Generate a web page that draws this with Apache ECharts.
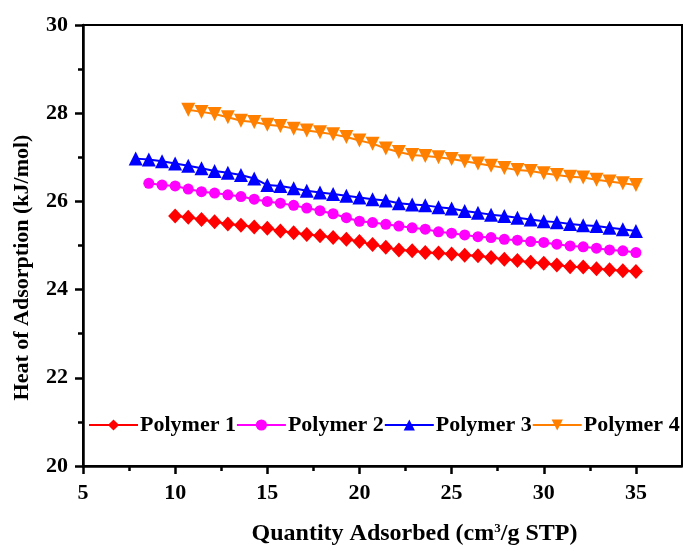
<!DOCTYPE html>
<html>
<head>
<meta charset="utf-8">
<title>Heat of Adsorption</title>
<script src="https://cdn.jsdelivr.net/npm/echarts@6/dist/echarts.min.js"></script>
<style>
  html, body { margin: 0; padding: 0; background: #fff; }
  #chart { width: 683px; height: 551px; }
</style>
</head>
<body>
<div id="chart"></div>
<script>
// Quantity adsorbed (cm3/g STP); every series ends at the last value
const quantity = [7.86, 8.57, 9.29, 10.00, 10.71, 11.43, 12.14, 12.86, 13.57, 14.29,
  15.00, 15.71, 16.43, 17.14, 17.86, 18.57, 19.29, 20.00, 20.71, 21.43,
  22.14, 22.86, 23.57, 24.29, 25.00, 25.71, 26.43, 27.14, 27.86, 28.57,
  29.29, 30.00, 30.71, 31.43, 32.14, 32.86, 33.57, 34.29, 35.00];

// Isosteric heat of adsorption (kJ/mol)
const polymer1 = [25.67, 25.64, 25.59, 25.54, 25.49, 25.46, 25.42, 25.39, 25.33, 25.29,
  25.25, 25.22, 25.18, 25.14, 25.09, 25.02, 24.96, 24.90, 24.88, 24.84,
  24.83, 24.81, 24.78, 24.77, 24.73, 24.69, 24.66, 24.62, 24.60, 24.56,
  24.52, 24.51, 24.47, 24.45, 24.43, 24.41];
const polymer2 = [26.41, 26.37, 26.35, 26.28, 26.22, 26.19, 26.15, 26.11, 26.05, 26.00,
  25.96, 25.91, 25.85, 25.79, 25.72, 25.63, 25.55, 25.52, 25.48, 25.44,
  25.40, 25.37, 25.31, 25.28, 25.24, 25.20, 25.18, 25.14, 25.12, 25.09,
  25.07, 25.03, 24.99, 24.97, 24.94, 24.90, 24.88, 24.84];
const polymer3 = [26.97, 26.95, 26.91, 26.86, 26.81, 26.75, 26.69, 26.65, 26.60, 26.52,
  26.37, 26.35, 26.30, 26.24, 26.20, 26.17, 26.13, 26.09, 26.05, 26.02,
  25.96, 25.93, 25.91, 25.87, 25.84, 25.78, 25.74, 25.70, 25.67, 25.63,
  25.59, 25.55, 25.53, 25.49, 25.46, 25.44, 25.40, 25.37, 25.33];
const polymer4 = [28.08, 28.03, 27.98, 27.91, 27.83, 27.80, 27.74, 27.71, 27.65, 27.61,
  27.57, 27.52, 27.46, 27.38, 27.31, 27.20, 27.12, 27.05, 27.03, 27.00,
  26.96, 26.91, 26.86, 26.81, 26.76, 26.71, 26.69, 26.64, 26.60, 26.56,
  26.54, 26.49, 26.45, 26.41, 26.37];

const seriesNames = ['Polymer 1', 'Polymer 2', 'Polymer 3', 'Polymer 4'];

// Axis ticks
const xTicks = [5, 10, 15, 20, 25, 30, 35];
const xMinorTicks = [7.5, 12.5, 17.5, 22.5, 27.5, 32.5];
const yTicks = [20, 22, 24, 26, 28, 30];
const yMinorTicks = [21, 23, 25, 27, 29];

// Pair each heat series with the matching tail of the quantity list
function pairs(values) {
  const xs = quantity.slice(quantity.length - values.length);
  return values.map((v, i) => [xs[i], v]);
}

const FONT = 'Liberation Serif, Times New Roman, serif';

const styles = [
  { color: '#ff0000', symbol: 'diamond', symbolSize: [14, 15], rotate: 0 },
  { color: '#ff00ff', symbol: 'circle', symbolSize: 11, rotate: 0 },
  { color: '#0000ff', symbol: 'triangle', symbolSize: 14, rotate: 0 },
  { color: '#ff8000', symbol: 'triangle', symbolSize: 14, rotate: 180 }
];
const allValues = [polymer1, polymer2, polymer3, polymer4];

const chart = echarts.init(document.getElementById('chart'), null, { renderer: 'canvas' });

const axisLine = { show: true, lineStyle: { color: '#000', width: 2.5 } };

chart.setOption({
  backgroundColor: '#fff',
  animation: false,
  grid: {
    left: 83, right: 1, top: 25, bottom: 80,
    show: true, borderColor: '#000', borderWidth: 2, backgroundColor: 'transparent'
  },
  legend: {
    data: seriesNames,
    left: 88, top: 414, padding: 0,
    itemWidth: 49, itemHeight: 14, itemGap: 0,
    textStyle: { fontFamily: FONT, fontWeight: 'bold', fontSize: 22, color: '#000', padding: [0, 0, 0, -3] }
  },
  xAxis: [
    {
      type: 'value', min: 5, max: 37.5, interval: 5,
      splitLine: { show: false },
      axisLine: axisLine,
      axisTick: { show: true, inside: false, length: 8, customValues: xTicks, lineStyle: { width: 2.5, color: '#000' } },
      axisLabel: { customValues: xTicks, margin: 16, fontFamily: FONT, fontWeight: 'bold', fontSize: 22, color: '#000' },
      name: 'Quantity Adsorbed (cm{sup|3}/g STP)',
      nameLocation: 'middle', nameGap: 56,
      nameTextStyle: {
        fontFamily: FONT, fontWeight: 'bold', fontSize: 24, color: '#000',
        padding: [0, 0, 0, 64],
        rich: { sup: { fontFamily: FONT, fontWeight: 'bold', fontSize: 13, color: '#000', padding: [0, 0, 11, 0] } }
      }
    },
    {
      // minor ticks between the labelled ones
      type: 'value', min: 5, max: 37.5, position: 'bottom',
      axisLine: { show: false }, splitLine: { show: false },
      axisTick: { show: true, length: 5, customValues: xMinorTicks, lineStyle: { width: 2.5, color: '#000' } },
      axisLabel: { show: false }
    }
  ],
  yAxis: [
    {
      type: 'value', min: 20, max: 30, interval: 2,
      splitLine: { show: false },
      axisLine: axisLine,
      axisTick: { show: true, length: 8, customValues: yTicks, lineStyle: { width: 2.5, color: '#000' } },
      axisLabel: { customValues: yTicks, margin: 15, fontFamily: FONT, fontWeight: 'bold', fontSize: 22, color: '#000' },
      name: 'Heat of Adsorption (kJ/mol)',
      nameLocation: 'middle', nameGap: 50,
      nameTextStyle: { fontFamily: FONT, fontWeight: 'bold', fontSize: 22, color: '#000', padding: [0, 44, 0, 0] }
    },
    {
      type: 'value', min: 20, max: 30, position: 'left',
      axisLine: { show: false }, splitLine: { show: false },
      axisTick: { show: true, length: 5, customValues: yMinorTicks, lineStyle: { width: 2.5, color: '#000' } },
      axisLabel: { show: false }
    }
  ],
  series: allValues.map((vals, i) => ({
    name: seriesNames[i],
    type: 'line',
    xAxisIndex: 0, yAxisIndex: 0,
    data: pairs(vals),
    symbol: styles[i].symbol,
    symbolSize: styles[i].symbolSize,
    symbolRotate: styles[i].rotate,
    showAllSymbol: true,
    color: styles[i].color,
    lineStyle: { color: styles[i].color, width: 2 },
    itemStyle: { color: styles[i].color }
  }))
});
</script>
</body>
</html>
